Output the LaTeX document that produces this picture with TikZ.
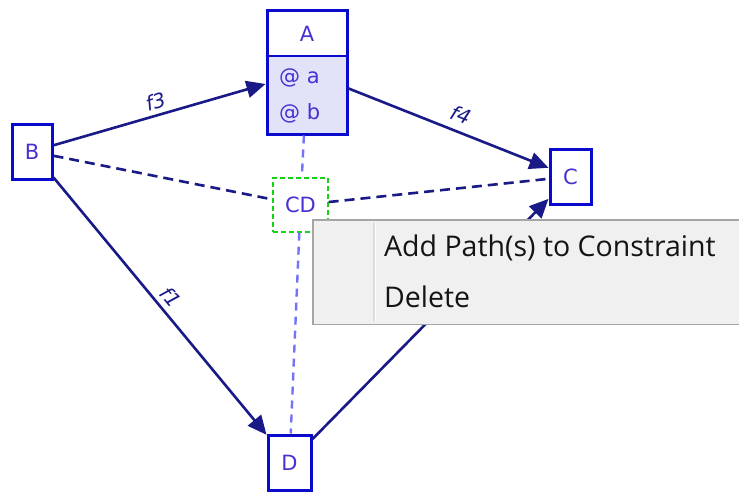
\documentclass[tikz,border=0pt]{standalone}
\usepackage{fontspec}
\setmainfont{DejaVu Sans}
\newfontfamily\menufont{Open Sans}
\usetikzlibrary{arrows.meta}
\definecolor{nodeblue}{RGB}{10,10,205}
\definecolor{textblue}{RGB}{70,50,210}
\definecolor{edgenavy}{RGB}{25,25,135}
\definecolor{lightdash}{RGB}{115,115,250}
\definecolor{cdgreen}{RGB}{20,210,20}
\definecolor{attrfill}{RGB}{226,226,248}
\definecolor{menubg}{RGB}{240,240,240}
\definecolor{menuedge}{RGB}{165,165,165}
\definecolor{menutext}{RGB}{20,20,20}
\begin{document}
\begin{tikzpicture}[x=1pt,y=-1pt,
  entity/.style={draw=nodeblue, line width=3pt, fill=white, text=textblue,
    font=\fontsize{21}{24}\selectfont, inner sep=0pt},
  labeltext/.style={text=textblue, font=\fontsize{21}{24}\selectfont, inner sep=0pt},
  flow/.style={draw=edgenavy, line width=2.6pt, -{Triangle[length=19pt,width=17pt]}},
  link/.style={draw=edgenavy, line width=2.6pt, dash pattern=on 10pt off 6pt},
  tether/.style={draw=lightdash, line width=2.4pt, dash pattern=on 8pt off 6pt},
  flowlabel/.style={font=\fontsize{20}{22}\selectfont\itshape, text=edgenavy,
    sloped, above, inner sep=5pt},
  menuitem/.style={anchor=west, text=menutext, font=\menufont\fontsize{28.5}{32}\selectfont, inner sep=0pt}]
\useasboundingbox (0,0) rectangle (739,493);
\fill[white] (0,0) rectangle (739,493);

% class A with its attribute compartment
\fill[attrfill] (267,56) rectangle (347,134);
\node[draw=nodeblue, line width=3pt, minimum width=80pt, minimum height=124pt, inner sep=0pt] (A) at (307,72) {};
\coordinate (divy) at (0,56);
\draw[nodeblue, line width=2pt] (A.west |- divy) -- (A.east |- divy);
\node[labeltext] (Aname) at (307,34) {A};
\node[labeltext, anchor=west] (attra) at (279,78) {@ a};
\node[labeltext, anchor=west] (attrb) at (279,113) {@ b};

% other classes
\node[entity, minimum width=40pt, minimum height=55pt] (B) at (32,151.5) {B};
\node[entity, minimum width=41pt, minimum height=55pt] (C) at (570.5,176.5) {C};
\node[entity, minimum width=43pt, minimum height=55pt] (D) at (289.5,462.5) {D};

% constraint node
\node[draw=cdgreen, line width=1.3pt, dash pattern=on 5pt off 3pt, fill=white,
  minimum width=55pt, minimum height=54pt, inner sep=0pt, text=textblue,
  font=\fontsize{21}{24}\selectfont] (CD) at (300.5,205) {CD};

% paths
\draw[flow] (B) -- node[flowlabel, pos=0.5] {f3} (A);
\draw[flow] (A) -- node[flowlabel, pos=0.53, inner sep=8pt] {f4} (C);
\draw[flow] (B) -- node[flowlabel, pos=0.5] {f1} (D);
\draw[flow] (D) -- (C);

% constraint links
\draw[link] (B) -- (CD);
\draw[link] (CD) -- (C);
\draw[tether] (A) -- (CD);
\draw[tether] (CD) -- (D);

% context menu
\fill[menubg] (312,219) rectangle (739,325);
\draw[menuedge, line width=1.5pt] (739,219.75) -- (312.75,219.75) -- (312.75,324.25) -- (739,324.25);
\draw[black!14, line width=1.5pt] (374,223) -- (374,321);
\draw[white, line width=1.5pt] (375.5,223) -- (375.5,321);
\node[menuitem] (addpath) at (384,248) {Add Path(s) to Constraint};
\node[menuitem] (delete) at (384,297) {Delete};
\end{tikzpicture}
\end{document}
